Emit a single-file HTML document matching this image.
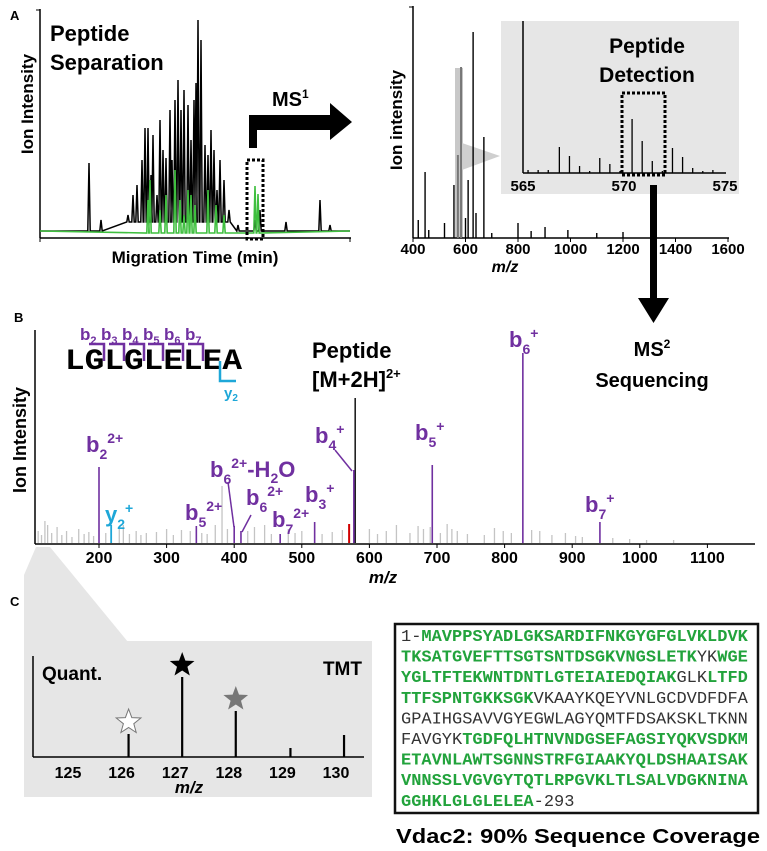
<!DOCTYPE html>
<html><head><meta charset="utf-8"><style>
body{margin:0;background:#fff}
svg{display:block;font-family:"Liberation Sans",Arial,sans-serif}
.b{font-weight:bold}
.mono{font-family:"Liberation Mono","DejaVu Sans Mono",monospace}
</style></head><body>
<svg id="fig" width="767" height="851" viewBox="0 0 767 851" xmlns="http://www.w3.org/2000/svg">
<!-- Panel A left -->
<g>
<text x="10" y="20" class="b" font-size="13">A</text>
<line x1="40" y1="9" x2="40" y2="238" stroke="#000" stroke-width="1.5"/>
<line x1="36" y1="10" x2="40" y2="10" stroke="#000"/>
<line x1="40" y1="238" x2="351" y2="238" stroke="#000" stroke-width="1.5"/>
<line x1="40" y1="238" x2="40" y2="242" stroke="#000"/><line x1="350" y1="238" x2="350" y2="242" stroke="#000"/>
<g id="chrom"></g>
<text x="50" y="41" class="b" font-size="22">Peptide</text>
<text x="50" y="70" class="b" font-size="22">Separation</text>
<text transform="translate(33,104) rotate(-90)" text-anchor="middle" class="b" font-size="17">Ion Intensity</text>
<text x="195" y="263" text-anchor="middle" class="b" font-size="17">Migration Time (min)</text>
<rect x="247" y="160" width="16" height="79" fill="none" stroke="#000" stroke-width="3" stroke-dasharray="3,2"/>
<path d="M249,148 V115 H330 V103 L352,122 L330,140 V130 H257 V148 Z" fill="#000"/>
<text x="272" y="106" class="b" font-size="20">MS<tspan font-size="12" dy="-8">1</tspan></text>
</g>
<!-- Panel A right -->
<g>
<rect x="455" y="68" width="8" height="170" fill="#c8c8c8"/>
<polygon points="462,143 462,170 500,156" fill="#cfcfcf"/>
<line x1="413" y1="6" x2="413" y2="238" stroke="#000" stroke-width="1.5"/>
<line x1="409" y1="7" x2="413" y2="7" stroke="#000"/>
<line x1="413" y1="238" x2="729" y2="238" stroke="#000" stroke-width="1.5"/>
<g id="ms1"></g>
<text transform="translate(402,120) rotate(-90)" text-anchor="middle" class="b" font-size="17">Ion intensity</text>
<text x="505" y="272" text-anchor="middle" class="b" font-size="16" font-style="italic">m/z</text>
<rect x="501" y="21" width="238" height="173" fill="#e6e6e6"/>
<line x1="523" y1="21" x2="523" y2="173" stroke="#000" stroke-width="1.5"/>
<line x1="523" y1="173" x2="726" y2="173" stroke="#000" stroke-width="1.5"/>
<g id="inset"></g>
<text x="647" y="53" text-anchor="middle" class="b" font-size="21">Peptide</text>
<text x="647" y="82" text-anchor="middle" class="b" font-size="21">Detection</text>
<rect x="622" y="93" width="43" height="82" fill="none" stroke="#000" stroke-width="3" stroke-dasharray="3,2"/>
<path d="M650,185 H657 V298 H669 L653.5,323 L638,298 H650 Z" fill="#000"/>
<text x="652" y="356" text-anchor="middle" class="b" font-size="20">MS<tspan font-size="12" dy="-8">2</tspan></text>
<text x="652" y="387" text-anchor="middle" class="b" font-size="20">Sequencing</text>
</g>
<!-- Panel B -->
<g>
<text x="14" y="322" class="b" font-size="13">B</text>
<line x1="35" y1="330" x2="35" y2="544" stroke="#000" stroke-width="1.5"/>
<g id="ms2"></g>
<line x1="35" y1="544" x2="755" y2="544" stroke="#000" stroke-width="1.5"/>
<text transform="translate(26,440) rotate(-90)" text-anchor="middle" class="b" font-size="18">Ion Intensity</text>
<text x="383" y="583" text-anchor="middle" class="b" font-size="17" font-style="italic">m/z</text>
<text x="65" y="369" class="mono b" font-size="30" textLength="177" lengthAdjust="spacingAndGlyphs">LGLGLELEA</text>
<g id="brackets" stroke="#7030a0" stroke-width="2.5" fill="none"></g>
<g fill="#7030a0" font-size="17" class="b">
<text x="80" y="340">b<tspan font-size="11" dy="4">2</tspan></text>
<text x="101" y="340">b<tspan font-size="11" dy="4">3</tspan></text>
<text x="122" y="340">b<tspan font-size="11" dy="4">4</tspan></text>
<text x="143" y="340">b<tspan font-size="11" dy="4">5</tspan></text>
<text x="164" y="340">b<tspan font-size="11" dy="4">6</tspan></text>
<text x="185" y="340">b<tspan font-size="11" dy="4">7</tspan></text>
</g>
<path d="M220,361 V381 H236" stroke="#1ea7d8" stroke-width="2.5" fill="none"/>
<text x="224" y="398" fill="#1ea7d8" class="b" font-size="15">y<tspan font-size="10" dy="3">2</tspan></text>
<text x="312" y="358" class="b" font-size="22">Peptide</text>
<text x="312" y="387" class="b" font-size="22">[M+2H]<tspan font-size="13" dy="-9">2+</tspan></text>
<g fill="#7030a0" class="b" font-size="22">
<text x="86" y="452">b<tspan font-size="14" dy="7">2</tspan><tspan font-size="14" dy="-16">2+</tspan></text>
<text x="105" y="522" fill="#1ea7d8">y<tspan font-size="14" dy="7">2</tspan><tspan font-size="14" dy="-16">+</tspan></text>
<text x="185" y="520">b<tspan font-size="14" dy="7">5</tspan><tspan font-size="14" dy="-16">2+</tspan></text>
<text x="210" y="477">b<tspan font-size="14" dy="7">6</tspan><tspan font-size="14" dy="-16">2+</tspan><tspan dy="9">-H</tspan><tspan font-size="14" dy="6">2</tspan><tspan dy="-6">O</tspan></text>
<text x="246" y="505">b<tspan font-size="14" dy="7">6</tspan><tspan font-size="14" dy="-16">2+</tspan></text>
<text x="272" y="527">b<tspan font-size="14" dy="7">7</tspan><tspan font-size="14" dy="-16">2+</tspan></text>
<text x="305" y="502">b<tspan font-size="14" dy="7">3</tspan><tspan font-size="14" dy="-16">+</tspan></text>
<text x="315" y="443">b<tspan font-size="14" dy="7">4</tspan><tspan font-size="14" dy="-16">+</tspan></text>
<text x="415" y="440">b<tspan font-size="14" dy="7">5</tspan><tspan font-size="14" dy="-16">+</tspan></text>
<text x="509" y="347">b<tspan font-size="14" dy="7">6</tspan><tspan font-size="14" dy="-16">+</tspan></text>
<text x="585" y="512">b<tspan font-size="14" dy="7">7</tspan><tspan font-size="14" dy="-16">+</tspan></text>
</g>
<g stroke="#7030a0" stroke-width="1.5">
<line x1="228" y1="482" x2="234" y2="527"/>
<line x1="251" y1="515" x2="242" y2="532"/>
<line x1="335" y1="450" x2="352" y2="471"/>
</g>
</g>
<!-- Panel C -->
<g>
<text x="10" y="606" class="b" font-size="13">C</text>
<polygon points="36,547 50,547 128,642 24,642 24,575" fill="#e6e6e6"/>
<rect x="24" y="641" width="348" height="156" fill="#e6e6e6"/>
<line x1="33" y1="656" x2="33" y2="757" stroke="#000" stroke-width="1.5"/>
<line x1="33" y1="757" x2="364" y2="757" stroke="#000" stroke-width="1.5"/>
<g id="tmt"></g>
<text x="42" y="680" class="b" font-size="19">Quant.</text>
<text x="362" y="675" text-anchor="end" class="b" font-size="19">TMT</text>
<text x="189" y="793" text-anchor="middle" class="b" font-style="italic" font-size="17">m/z</text>
</g>
<!-- Sequence box -->
<g>
<rect x="395" y="624" width="363" height="189" fill="#fff" stroke="#111" stroke-width="2.5"/>
<g id="seq" class="mono" font-size="17"></g>
<text x="578" y="843" text-anchor="middle" class="b" font-size="20" textLength="364" lengthAdjust="spacingAndGlyphs">Vdac2: 90% Sequence Coverage</text>
</g>
</svg>
<script>
// ---------- Panel A chromatogram data ----------
const chromBlackTime = [49,61,88,93,97,102,105,108,111,113,117,120,123,126,130,132,135,138,141,144,148,151,154,156,158,161,165,168,171,174,177,180,184,189,198,215,220,246,280,290];
const chromBlackInt  = [71,14,19,39,49,74,106,106,59,99,39,114,84,76,124,74,134,154,124,144,129,94,134,151,214,194,89,79,104,84,44,74,54,24,9,14,24,12,34,9];
const chromGreenTime = [108,110,120,126,135,140,144,148,151,155,168,176,184,215,218];
const chromGreenInt  = [34,54,24,39,64,34,19,44,39,29,44,29,19,48,40];
// ---------- MS1 ----------
const ms1Mz  = [420,446,460,520,556,600,610,629,640,670,700,800,850,903,990,1100,1200];
const ms1Int = [18,66,8,15,53,20,58,206,25,101,5,15,7,11,8,5,6];
const ms1GrayMz  = [571,583];
const ms1GrayInt = [83,171];
const ms1Ticks = [400,600,800,1000,1200,1400,1600];
// ---------- MS1 inset ----------
const insetMz  = [565.25,565.75,566.25,566.8,567.3,567.8,568.3,568.8,569.3,569.8,570.4,570.9,571.4,571.9,572.4,572.9,573.4,573.9,574.4];
const insetInt = [3,3,3,26,17,7,2,15,9,2,54,32,12,2,25,16,5,2,3];
const insetTicks = [565,570,575];
// ---------- MS2 ----------
const ms2LabMz  = [200,344,400,410,468,519,577,693,827,941];
const ms2LabInt = [76,17,17,12,9,21,73,78,190,21];
const ms2Y2Mz = [218];
const ms2Y2Int = [18];
const ms2PrecMz = [579];
const ms2PrecInt = [145];
const ms2RedMz = [570];
const ms2RedInt = [19];
const ms2NoiseMz  = [110,115,120,124,130,138,145,152,160,170,178,185,192,210,230,236,245,255,262,270,285,300,310,322,335,352,360,372,382,390,420,430,445,455,480,490,500,530,545,560,600,612,625,640,660,672,680,690,705,715,722,730,745,770,785,798,810,840,852,870,890,905,915,960,985,1010,1050];
const ms2NoiseInt = [12,8,22,18,10,16,8,12,6,14,9,11,7,10,14,18,9,12,8,10,11,14,8,13,12,10,9,18,57,14,12,16,18,9,14,10,12,9,11,13,14,9,12,18,10,17,14,16,10,19,14,12,9,8,15,12,10,13,12,8,10,7,6,5,4,3,3];
const ms2Ticks = [200,300,400,500,600,700,800,900,1000,1100];
// ---------- TMT ----------
const tmtMz  = [126.13,127.13,128.13,129.15,130.15];
const tmtInt = [23,80,46,9,22];
const tmtStarFill = ["#fff","#000","#777",null,null];
const tmtTicks = [125,126,127,128,129,130];

const NS="http://www.w3.org/2000/svg";
function mk(tag,attrs,parent){const e=document.createElementNS(NS,tag);for(const k in attrs)e.setAttribute(k,attrs[k]);parent.appendChild(e);return e;}

const cx=t=>40+t, cy=i=>234-i;
const m1x=m=>413+(m-400)*0.2625, m1y=i=>238-i;
const inx=m=>523+(m-565)*20.2, iny=i=>173-i;
const m2x=m=>99+(m-200)*0.676, m2y=i=>543-i;
const tx=m=>68+(m-125)*53.6, ty=i=>757-i;

function spikes(times,ints,base){let pts=[[0,3]];times.forEach((t,k)=>{pts.push([t-1.2,base(t)],[t,ints[k]],[t+1.2,base(t)]);});pts.push([310,3]);return pts.map(p=>cx(p[0])+","+cy(p[1])).join(" ");}
const chrom=document.getElementById('chrom');
let pl=mk('polyline',{points:spikes(chromBlackTime,chromBlackInt,t=>(t>85&&t<195)?12:3),fill:"none",stroke:"#000","stroke-width":1.5},chrom);


let pg=mk('polyline',{points:spikes(chromGreenTime,chromGreenInt,t=>1),fill:"none",stroke:"#3fbf3f","stroke-width":1.6},chrom);



const ms1=document.getElementById('ms1');
ms1Mz.forEach((m,k)=>{const l=mk('line',{x1:m1x(m),x2:m1x(m),y1:238,y2:m1y(ms1Int[k]),stroke:"#000","stroke-width":1.4},ms1);

});
ms1GrayMz.forEach((m,k)=>{const l=mk('line',{x1:m1x(m),x2:m1x(m),y1:238,y2:m1y(ms1GrayInt[k]),stroke:"#777","stroke-width":2},ms1);

});
ms1Ticks.forEach(v=>{mk('line',{x1:m1x(v),x2:m1x(v),y1:238,y2:242,stroke:"#000"},ms1);
const t=mk('text',{x:m1x(v),y:254,"text-anchor":"middle","font-weight":"bold","font-size":15},ms1);t.textContent=v;

});

const ins=document.getElementById('inset');
insetMz.forEach((m,k)=>{const l=mk('line',{x1:inx(m),x2:inx(m),y1:173,y2:iny(insetInt[k]),stroke:"#000","stroke-width":1.3},ins);

});
insetTicks.forEach(v=>{const t=mk('text',{x:inx(v),y:191,"text-anchor":"middle","font-weight":"bold","font-size":15},ins);t.textContent=v;

});

const ms2=document.getElementById('ms2');
ms2NoiseMz.forEach((m,k)=>{const l=mk('line',{x1:m2x(m),x2:m2x(m),y1:543,y2:m2y(ms2NoiseInt[k]),stroke:"#c4c4c4","stroke-width":1.3},ms2);

});
function peakSet(mz,ints,col,w,name){mz.forEach((m,k)=>{const l=mk('line',{x1:m2x(m),x2:m2x(m),y1:543,y2:m2y(ints[k]),stroke:col,"stroke-width":w},ms2);

});}
peakSet(ms2RedMz,ms2RedInt,"#d00000",2,'ms2-red-peak');
peakSet(ms2PrecMz,ms2PrecInt,"#222",1.6,'precursor-peak');
peakSet(ms2LabMz,ms2LabInt,"#7030a0",1.6,'b-ion-peak');
peakSet(ms2Y2Mz,ms2Y2Int,"#1ea7d8",1.8,'y-ion-peak');
ms2Ticks.forEach(v=>{mk('line',{x1:m2x(v),x2:m2x(v),y1:544,y2:548,stroke:"#000"},ms2);
const t=mk('text',{x:m2x(v),y:563,"text-anchor":"middle","font-weight":"bold","font-size":16},ms2);t.textContent=v;

});

const br=document.getElementById('brackets');
[104,124,144,163,183,203].forEach(b=>{mk('path',{d:`M${b-15},344 H${b} V361`},br);});

const tmt=document.getElementById('tmt');
function star(x,y,r,fill){let p=[];for(let i=0;i<10;i++){const a=-Math.PI/2+i*Math.PI/5;const rr=i%2?r*0.42:r;p.push((x+rr*Math.cos(a)).toFixed(1)+","+(y+rr*Math.sin(a)).toFixed(1));}
const s=mk('polygon',{points:p.join(" "),fill:fill,stroke:fill==="#fff"?"#777":"none","stroke-width":1},tmt);

}
tmtMz.forEach((m,k)=>{const l=mk('line',{x1:tx(m),x2:tx(m),y1:757,y2:ty(tmtInt[k]),stroke:"#000","stroke-width":2.2},tmt);


if(tmtStarFill[k])star(tx(m),ty(tmtInt[k])-12,13,tmtStarFill[k]);});
tmtTicks.forEach(v=>{const t=mk('text',{x:tx(v),y:778,"text-anchor":"middle","font-weight":"bold","font-size":16},tmt);t.textContent=v;

});

const G="#22a33c",K="#333";
const lines=[
[["1-",K],["MAVPPSYADLGKSARDIFNKGYGFGLVKLDVK",G]],
[["TKSATGVEFTTSGTSNTDSGKVNGSLETK",G],["YK",K],["WGE",G]],
[["YGLTFTEKWNTDNTLGTEIAIEDQIAK",G],["GLK",K],["LTFD",G]],
[["TTFSPNTGKKSGK",G],["VKAAYKQEYVNLGCDVDFDFA",K]],
[["GPAIHGSAVVGYEGWLAGYQMTFDSAKSKLTKNN",K]],
[["FAVGYK",K],["TGDFQLHTNVNDGSEFAGSIYQKVSDKM",G]],
[["ETAVNLAWTSGNNSTRFGIAAKYQLDSHAAISAK",G]],
[["VNNSSLVGVGYTQTLRPGVKLTLSALVDGKNINA",G]],
[["GGHKLGLGLELEA",G],["-293",K]]];
const seq=document.getElementById('seq');
lines.forEach((ln,i)=>{const t=mk('text',{x:401,y:641+i*20.6},seq);


ln.forEach(([s,c])=>{const sp=mk('tspan',{fill:c,"font-weight":c===G?"bold":"normal"},t);sp.textContent=s;});});
</script>
</body></html>
